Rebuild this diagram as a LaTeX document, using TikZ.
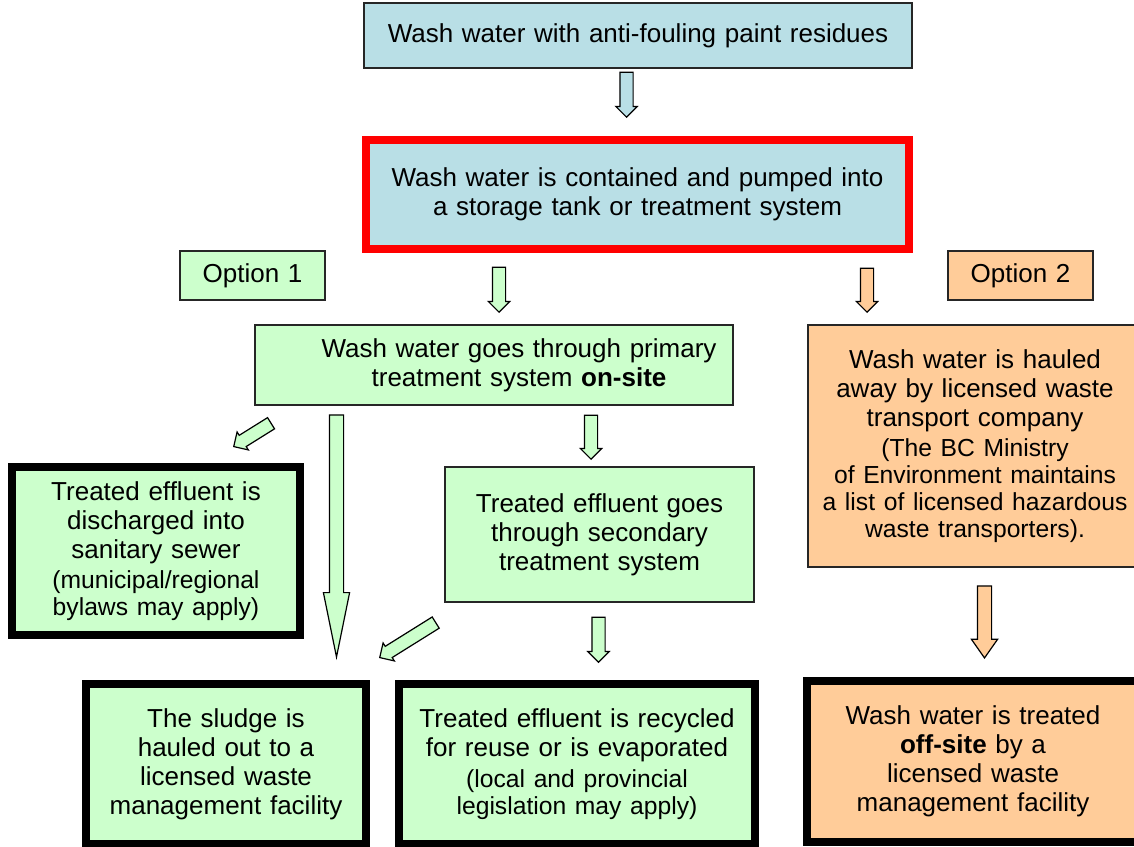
\documentclass[tikz,border=0pt]{standalone}
\usepackage{fontspec}
\setmainfont{Liberation Sans}
\usetikzlibrary{shapes.arrows,positioning}
\definecolor{washblue}{HTML}{B9DFE6}
\definecolor{mint}{HTML}{CCFFCC}
\definecolor{peach}{HTML}{FFCC99}
\definecolor{alarm}{HTML}{FF0000}
\newcommand{\smallnote}[1]{\par\vspace{2.5pt}{\fontsize{18.5pt}{20.25pt}\selectfont #1\par}}
\tikzset{
  thinbox/.style={draw=black!85, line width=1.1pt, align=center, inner sep=0pt,
                  font=\fontsize{19.5pt}{21.75pt}\selectfont},
  bluebox/.style={thinbox, fill=washblue},
  greenbox/.style={thinbox, fill=mint},
  orangebox/.style={thinbox, fill=peach},
  endbox/.style={draw=black, line width=6pt},
  alarmbox/.style={bluebox, draw=alarm, line width=6pt},
  blockarr/.style={single arrow, draw=black, line width=0.9pt, inner sep=4.5pt,
                   single arrow head extend=3pt, single arrow tip angle=90,
                   anchor=tip, minimum height=33.75pt},
  downarr/.style={blockarr, rotate=-90},
  longarr/.style={downarr, inner sep=4.875pt, single arrow head extend=4.5pt}}

\begin{document}
\begin{tikzpicture}[x=0.75pt, y=-0.75pt]
  \useasboundingbox (0,0) rectangle (1134,846);
  \clip (0,0) rectangle (1134,846);
  % boxes
  \node[bluebox, minimum width=411pt, minimum height=48.75pt, text width=405pt] (wash) at (638,35.5)
    {Wash water with anti-fouling paint residues};
  \node[alarmbox, minimum width=407.25pt, minimum height=81.75pt, text width=395pt] (tank) at (637.5,194.5)
    {Wash water is contained and pumped into\\ a storage tank or treatment system};
  \node[greenbox, minimum width=108.75pt, minimum height=36.75pt, text width=105pt] (opt1) at (252.5,275.5) {Option 1};
  \node[orangebox, minimum width=108.75pt, minimum height=36.75pt, text width=105pt] (opt2) at (1020.5,275.5) {Option 2};
  \node[greenbox, minimum width=358.5pt, minimum height=60pt, text width=350pt] (prim) at (494,365)
    {\hspace*{37.5pt}Wash water goes through primary\\ \hspace*{37.5pt}treatment system \textbf{on-site}};
  \node[orangebox, minimum width=250.5pt, minimum height=181.5pt, text width=245pt] (haul) at (975,446)
    {Wash water is hauled\\ away by licensed waste\\ transport company
     \smallnote{(The BC Ministry\\ of Environment maintains\\ a list of licensed hazardous\\ waste transporters).}};
  \node[greenbox, endbox, minimum width=216pt, minimum height=126.4pt, text width=205pt] (sewer) at (156,551)
    {Treated effluent is\\ discharged into\\ sanitary sewer
     \smallnote{(municipal/regional\\ bylaws may apply)}};
  \node[greenbox, minimum width=231.75pt, minimum height=101.25pt, text width=225pt] (sec) at (599.5,534.5)
    {Treated effluent goes\\ through secondary\\ treatment system};
  \node[greenbox, endbox, minimum width=210pt, minimum height=120pt, text width=200pt] (sludge) at (226,764)
    {The sludge is\\ hauled out to a\\ licensed waste\\ management facility};
  \node[greenbox, endbox, minimum width=267pt, minimum height=120pt, text width=258pt] (recyc) at (577,764)
    {Treated effluent is recycled\\ for reuse or is evaporated
     \smallnote{(local and provincial\\ legislation may apply)}};
  \node[orangebox, endbox, minimum width=249pt, minimum height=120.75pt, text width=240pt] (offsite) at (973,761.5)
    {Wash water is treated\\ \textbf{off-site} by a\\ licensed waste\\ management facility};
  % block arrows
  \node[downarr, fill=washblue] (a0) at (626.5,118) {};
  \node[downarr, fill=mint] (a1) at (499,313) {};
  \node[downarr, fill=peach, minimum height=33pt] (a2) at (867,313) {};
  \node[downarr, fill=mint, minimum height=33pt] (a3) at (591,460) {};
  \node[longarr, fill=mint, minimum height=181.5pt, single arrow tip angle=23] (a4) at (336.5,660) {};
  \node[blockarr, fill=mint, rotate=212, minimum height=33pt] (a5) at (233,447) {};
  \node[blockarr, fill=mint, rotate=212, minimum height=49.5pt] (a6) at (379,658) {};
  \node[downarr, fill=mint] (a7) at (598.5,663) {};
  \node[longarr, fill=peach, minimum height=54pt, single arrow tip angle=70] (a8) at (984.5,659) {};
\end{tikzpicture}
\end{document}
